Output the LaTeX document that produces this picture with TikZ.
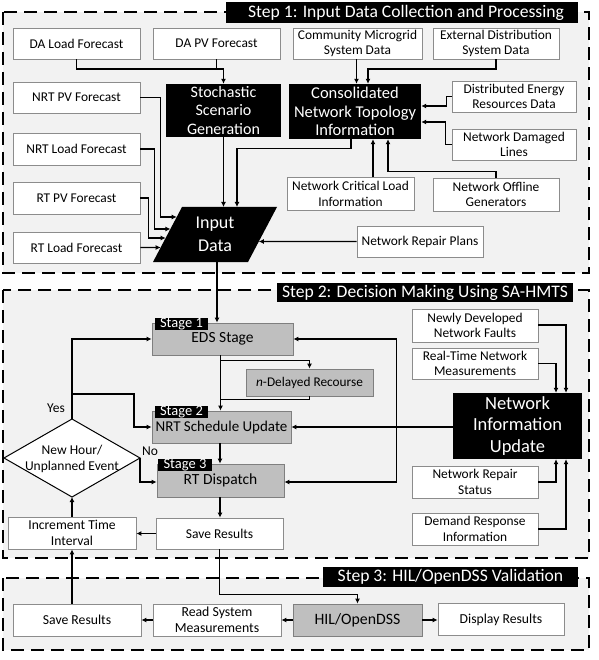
\documentclass[tikz,border=0pt]{standalone}
\usepackage{fontspec}
\setmainfont{Carlito}
\usetikzlibrary{arrows.meta,calc}
\definecolor{bgc}{HTML}{F2F2F2}
\definecolor{gfill}{HTML}{BFBFBF}
\definecolor{gdraw}{HTML}{7F7F7F}
\definecolor{wdraw}{HTML}{8C8C8C}
\begin{document}
\begin{tikzpicture}[x=1pt,y=-1pt,
 frame/.style={draw=black, line width=2.6pt, dash pattern=on 13pt off 7pt, fill=bgc},
 wbox/.style={draw=wdraw, fill=white, line width=0.8pt, align=center, inner sep=0pt, font=\fontsize{13.4}{15.5}\selectfont},
 bbox/.style={fill=black, text=white, align=center, inner sep=0pt, font=\fontsize{16}{18.5}\selectfont},
 gbox/.style={draw=gdraw, fill=gfill, line width=0.8pt, align=center, inner sep=0pt},
 tabbox/.style={fill=black, text=white, inner sep=0pt, minimum height=12pt, text height=9.5pt, text depth=1.5pt, font=\fontsize{14.5}{12}\selectfont},
 titlebox/.style={fill=black, text=white, inner sep=0pt, font=\fontsize{17.6}{19}\selectfont},
 conn/.style={line width=1.3pt, -{Latex[length=5pt,width=5pt]}},
 plain/.style={line width=1.3pt},
 lbl/.style={inner sep=0pt, font=\fontsize{13.5}{15}\selectfont},
]
\useasboundingbox (0,0) rectangle (598,660);

% frames
\draw[frame] (3,12) rectangle (589,273);
\draw[frame] (3,290) rectangle (589,558);
\draw[frame] (3,578) rectangle (589,650);

% titles
\node[titlebox, minimum width=352pt, minimum height=21pt] (t1) at (402,12.5) {\hspace{8pt}Step 1: Input Data Collection and Processing};
\node[titlebox, minimum width=296pt, minimum height=19pt] (t2) at (425,292.5) {Step 2: Decision Making Using SA-HMTS};
\node[titlebox, minimum width=255pt, minimum height=20pt] (t3) at (450.5,577) {Step 3: HIL/OpenDSS Validation};

% ---------- Step 1 ----------
\node[wbox, minimum width=127pt, minimum height=31pt] (dal) at (76.5,43.5) {DA Load Forecast};
\node[wbox, minimum width=127pt, minimum height=31pt] (dapv) at (216.5,43.5) {DA PV Forecast};
\node[wbox, minimum width=129pt, minimum height=31pt] (cmg) at (357.5,43.5) {Community Microgrid\\System Data};
\node[wbox, minimum width=126pt, minimum height=31pt] (ext) at (496,43.5) {External Distribution\\System Data};
\node[wbox, minimum width=127pt, minimum height=31pt] (nrtpv) at (76.5,97.5) {NRT PV Forecast};
\node[bbox, minimum width=115pt, minimum height=53pt] (ssg) at (223.5,110.5) {Stochastic\\Scenario\\Generation};
\node[bbox, minimum width=132pt, minimum height=55pt, font=\fontsize{16.5}{18.5}\selectfont] (cnt) at (355,111.5) {Consolidated\\Network Topology\\Information};
\node[wbox, minimum width=124pt, minimum height=31pt] (der) at (514,96.5) {Distributed Energy\\Resources Data};
\node[wbox, minimum width=124pt, minimum height=31pt] (ndl) at (514,144.5) {Network Damaged\\Lines};
\node[wbox, minimum width=127pt, minimum height=32pt] (nrtl) at (76.5,149) {NRT Load Forecast};
\node[wbox, minimum width=127pt, minimum height=32pt] (rtpv) at (76.5,198) {RT PV Forecast};
\node[wbox, minimum width=127pt, minimum height=31pt] (rtl) at (76.5,247.5) {RT Load Forecast};
\node[wbox, minimum width=127pt, minimum height=33pt] (ncl) at (350.5,194) {Network Critical Load\\Information};
\node[wbox, minimum width=126pt, minimum height=33pt] (nog) at (496,194.5) {Network Offline\\Generators};
\node[wbox, minimum width=126pt, minimum height=31pt] (nrp) at (420,241.5) {Network Repair Plans};

% input data parallelogram
\coordinate (inTL) at (182,207);
\coordinate (inTR) at (277,207);
\coordinate (inBR) at (248,262);
\coordinate (inBL) at (153,262);
\fill[black] (inTL) -- (inTR) -- (inBR) -- (inBL) -- cycle;
\node[align=center, text=white, inner sep=0pt, font=\fontsize{18}{23}\selectfont] (inp) at (215,234.5) {Input\\Data};
\coordinate (inB) at ($(inBL)!{64/95}!(inBR)$);

% step 1 connectors
\coordinate (j1) at (223.5,69);
\draw[plain] (dal.south) |- (j1);
\draw[plain] (dapv.south) -- (dapv.south |- j1);
\draw[conn] (j1) -- (ssg.north);
\draw[conn] ($(cmg.south)+(-1,0)$) -- ($(cnt.north)+(1.5,0)$);
\coordinate (e1) at (368,69);
\draw[conn] (ext.south) |- (e1) -- (e1 |- cnt.north);
\draw[conn] (der.west) -- ++(-5,0) |- ($(cnt.east)+(0,-5.5)$);
\draw[conn] (ndl.west) -- ++(-6,0) |- ($(cnt.east)+(0,10.5)$);
\draw[conn] ($(ncl.north)+(22.5,0)$) -- ($(cnt.south)+(18,0)$);
\draw[conn] (nog.north) -- ++(0,-6) -| ($(cnt.south)+(33,0)$);
\draw[conn] ($(cnt.south)+(-4,0)$) -- ++(0,9) -| ($(inTL)!{55/95}!(inTR)$);
\draw[conn] (ssg.south) -- (ssg.south |- inTL);
\draw[conn] (nrtpv.east) -- ++(20,0) |- ($(inTL)!{10/55}!(inBL)$);
\draw[conn] (nrtl.east) -- ++(14,0) |- ($(inTL)!{22/55}!(inBL)$);
\draw[conn] (rtpv.east) -- ++(8,0) |- ($(inTL)!{31/55}!(inBL)$);
\draw[conn] (rtl.east) -- ($(inTL)!{40.5/55}!(inBL)$);
\draw[conn] (nrp.west) -- ($(inTR)!{34.5/55}!(inBR)$);

% ---------- Step 2 ----------
\node[gbox, minimum width=141pt, minimum height=32pt, font=\fontsize{15.5}{17}\selectfont] (eds) at (222.5,339) {EDS Stage};
\node[tabbox, minimum width=53pt] (tab1) at (181.5,323.5) {Stage 1};
\node[gbox, minimum width=127pt, minimum height=27pt, font=\fontsize{13.3}{15}\selectfont] (ndr) at (309.5,382.5) {\textit{n}-Delayed Recourse};
\node[gbox, minimum width=139pt, minimum height=32pt, font=\fontsize{15}{17}\selectfont] (nrt) at (221.5,427) {NRT Schedule Update};
\node[tabbox, minimum width=53pt] (tab2) at (181.5,411.5) {Stage 2};
\node[gbox, minimum width=127pt, minimum height=33pt, font=\fontsize{15.5}{17}\selectfont] (rtd) at (220.5,480.5) {RT Dispatch};
\node[tabbox, minimum width=54pt] (tab3) at (185,464.5) {Stage 3};
\node[wbox, minimum width=127pt, minimum height=31pt, font=\fontsize{13.5}{15.5}\selectfont] (sr2) at (219.5,533.5) {Save Results};
\node[wbox, minimum width=128pt, minimum height=32pt, font=\fontsize{13.6}{16}\selectfont] (iti) at (72,533) {Increment Time\\Interval};

% diamond
\coordinate (diaT) at (72,419);
\coordinate (diaR) at (140,458);
\coordinate (diaB) at (72,497);
\coordinate (diaL) at (4,458);
\draw[line width=1pt, fill=white] (diaT) -- (diaR) -- (diaB) -- (diaL) -- cycle;
\node[align=center, inner sep=0pt, font=\fontsize{13.5}{16.5}\selectfont] (dia) at (72,459) {New Hour/\\Unplanned Event};
\node[lbl] (yes) at (56,408) {Yes};
\node[lbl] (no) at (150,451) {No};

\node[bbox, minimum width=129pt, minimum height=66pt, font=\fontsize{18.5}{21.5}\selectfont] (niu) at (517.5,426) {Network\\Information\\Update};
\node[wbox, minimum width=126pt, minimum height=33pt] (ndnf) at (475,325.5) {Newly Developed\\Network Faults};
\node[wbox, minimum width=126pt, minimum height=31pt] (rtnm) at (475,363.5) {Real-Time Network\\Measurements};
\node[wbox, minimum width=126pt, minimum height=32pt, font=\fontsize{13.4}{16}\selectfont] (nrs) at (475,482) {Network Repair\\Status};
\node[wbox, minimum width=126pt, minimum height=32pt, font=\fontsize{13.4}{16}\selectfont] (dri) at (475,529) {Demand Response\\Information};

% step 2 connectors
\draw[conn] (inB) -- (inB |- eds.north);
\draw[conn] ($(eds.south)+(-2,0)$) -- ($(nrt.north)+(-1,0)$);
\draw[conn] ($(eds.south)+(-2,5)$) -| (ndr.north);
\draw[plain] (ndr.south) |- ($(nrt.north)+(-1,-11)$);
\draw[conn] ($(nrt.south)+(-1.5,0)$) -- ($(rtd.north)+(-0.5,0)$);
\draw[conn] ($(rtd.south)+(-0.5,0)$) -- ($(sr2.north)+(0.5,0)$);
\draw[conn] (sr2.west) -- (sr2.west -| iti.east);
\draw[conn] (iti.north) -- (diaB);
\draw[conn] (diaT) |- (eds.west);
\draw[conn] ($(diaT)+(0,-25)$) -- ++(62,0) |- (nrt.west);
\draw[conn] (diaR) |- ($(rtd.west)+(0,1.5)$);
\draw[conn] ($(ndnf.east)+(0,-0.5)$) -| ($(niu.north)+(48.5,0)$);
\draw[conn] (rtnm.east) -| ($(niu.north)+(38.5,0)$);
\draw[conn] (nrs.east) -| ($(niu.south)+(38.5,0)$);
\draw[conn] (dri.east) -| ($(niu.south)+(48.5,0)$);
\draw[conn] (niu.west |- nrt.east) -- (nrt.east);
\draw[conn] ($(nrt.east)+(105,0)$) |- (eds.east);
\draw[conn] ($(nrt.east)+(105,0)$) |- ($(rtd.east)+(0,1.5)$);

% ---------- Step 3 ----------
\node[gbox, minimum width=129pt, minimum height=32pt, font=\fontsize{15.8}{17}\selectfont] (hil) at (357.5,620) {HIL/OpenDSS};
\node[wbox, minimum width=126pt, minimum height=32pt, font=\fontsize{13.7}{15.5}\selectfont] (dr) at (501,619.5) {Display Results};
\node[wbox, minimum width=128pt, minimum height=32pt, font=\fontsize{13.8}{16}\selectfont] (rsm) at (217,620) {Read System\\Measurements};
\node[wbox, minimum width=128pt, minimum height=32pt, font=\fontsize{13.7}{15.5}\selectfont] (sr3) at (77,620) {Save Results};

\draw[conn] (sr2.south) -- ++(0,45) -| (hil.north);
\draw[conn] (hil.west) -- (rsm.east);
\draw[conn] (rsm.west) -- (sr3.east);
\draw[conn] (hil.east) -- (hil.east -| dr.west);
\draw[conn] (sr3.north -| iti.south) -- (iti.south);
\end{tikzpicture}
\end{document}
